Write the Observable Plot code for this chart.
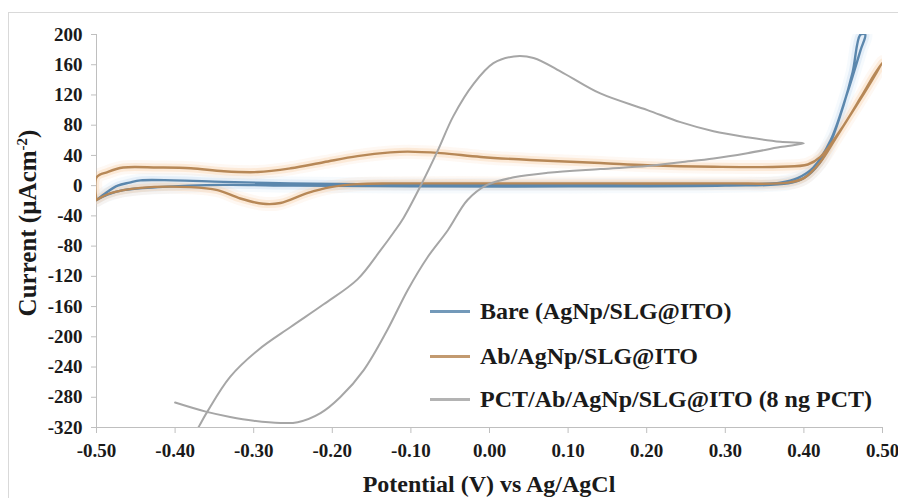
<!DOCTYPE html>
<html>
<head>
<meta charset="utf-8">
<script src="https://cdn.jsdelivr.net/npm/d3@7"></script>
<script src="https://cdn.jsdelivr.net/npm/@observablehq/plot@0.6"></script>
<style>
  body { margin: 0; background: #fff; }
  #wrap {
    position: relative; width: 898px; height: 498px; overflow: hidden; background: #fff;
    font-family: "Liberation Serif", "Times New Roman", serif; font-weight: bold; color: #1a1a1a;
  }
  #frame {
    position: absolute; left: 8px; top: 12px; width: 920px; height: 520px;
    border-top: 1px solid #d9d9d9; border-left: 1px solid #d9d9d9;
  }
  #chart { position: absolute; left: 0; top: 0; }
  #ytitle {
    position: absolute; left: 27px; top: 223px; white-space: nowrap;
    transform: translate(-50%, -50%) rotate(-90deg);
    font-size: 25px; line-height: 25px;
  }
  #ytitle sup { font-size: 15px; vertical-align: 9px; line-height: 0; }
  #xtitle {
    position: absolute; left: 489px; top: 472px; white-space: nowrap;
    transform: translateX(-50%); font-size: 24px; line-height: 24px;
  }
  .lg-row { position: absolute; left: 430px; height: 24px; white-space: nowrap; }
  .lg-line { position: absolute; left: 0; top: 11px; width: 40px; height: 3px; }
  .lg-text { position: absolute; left: 50px; top: 0; font-size: 24px; line-height: 24px; }
</style>
</head>
<body>
<div id="wrap">
  <div id="frame"></div>
  <div id="chart"></div>
  <div id="ytitle">Current (µAcm<sup>-2</sup>)</div>
  <div id="xtitle">Potential (V) vs Ag/AgCl</div>
  <div id="legend"></div>
</div>
<script>
// Axis ticks
const xTicks = [-0.50, -0.40, -0.30, -0.20, -0.10, 0.00, 0.10, 0.20, 0.30, 0.40, 0.50];
const yTicks = [-320, -280, -240, -200, -160, -120, -80, -40, 0, 40, 80, 120, 160, 200];

// Series names (legend order)
const seriesNames = ["Bare (AgNp/SLG@ITO)", "Ab/AgNp/SLG@ITO", "PCT/Ab/AgNp/SLG@ITO (8 ng PCT)"];
const seriesColors = ["#5b87ad", "#b78857", "#a6a6a6"];
const glowColors = ["#b9d3ee", "#f8c99c", null];

// Bare electrode: potential (V) and current density (µA/cm²) around the scan
const bareV = [-0.500, -0.486, -0.473, -0.458, -0.444, -0.402, -0.338, -0.253, -0.168, -0.050, 0.100, 0.250, 0.340, 0.370, 0.392, 0.412, 0.434, 0.455, 0.472, 0.478,
               0.472, 0.462, 0.450, 0.435, 0.420, 0.400, 0.380, 0.300, 0.100, -0.100, -0.250, -0.338, -0.422, -0.466, -0.486, -0.500];
const bareI = [-19, -8, 0, 4, 7, 7, 5, 3, 2, 1, 1, 1, 2, 4, 10, 24, 60, 122, 179, 200,
               200, 150, 105, 60, 30, 10, 3, 0, -1, -1, 0, 1, -2, -6, -12, -19];

// Antibody-modified electrode
const abV = [-0.500, -0.482, -0.444, -0.380, -0.346, -0.317, -0.288, -0.266, -0.232, -0.202, -0.168, -0.126, 0.000, 0.150, 0.300, 0.380, 0.400, 0.420, 0.440, 0.460, 0.480, 0.500,
             0.489, 0.472, 0.447, 0.421, 0.405, 0.370, 0.285, 0.201, 0.141, 0.052, -0.011, -0.062, -0.104, -0.126, -0.168, -0.211, -0.253, -0.295, -0.338, -0.380, -0.422, -0.466, -0.486, -0.500, -0.500];
const abI = [-19, -10, -3, -2, -6, -17, -24, -23, -10, -2, 2, 3, 3, 3, 3, 4, 10, 30, 62, 95, 128, 163,
             146, 116, 74, 38, 28, 25, 25, 27, 30, 34, 38, 43, 45, 44, 39, 31, 23, 18, 19, 23, 24, 24, 18, 11, -19];

// Electrode after PCT binding (8 ng PCT)
const pctV = [-0.385, -0.372, -0.359, -0.330, -0.295, -0.253, -0.211, -0.168, -0.139, -0.122, -0.109, -0.088, -0.066, -0.046, -0.020, 0.005, 0.031, 0.056, 0.094, 0.141, 0.201, 0.243, 0.285, 0.328, 0.370, 0.400,
              0.370, 0.328, 0.285, 0.243, 0.201, 0.141, 0.074, 0.031, -0.003, -0.028, -0.053, -0.079, -0.104, -0.130, -0.160, -0.190, -0.215, -0.244, -0.266, -0.300, -0.330, -0.361, -0.400];
const pctI = [-347, -323, -299, -253, -218, -187, -157, -124, -86, -62, -42, -1, 46, 92, 135, 162, 171, 169, 149, 122, 100, 84, 72, 64, 58, 56,
              51, 43, 36, 31, 26, 22, 17, 11, 1, -19, -59, -95, -138, -191, -244, -280, -301, -313, -314, -311, -306, -299, -287];

const toRows = (vs, is) => vs.map((v, k) => ({v, i: is[k]}));
const series = [toRows(bareV, bareI), toRows(abV, abI), toRows(pctV, pctI)];

const glowMarks = [];
series.forEach((rows, k) => {
  if (!glowColors[k]) return;
  glowMarks.push(Plot.line(rows, {x: "v", y: "i", curve: "catmull-rom", clip: true,
    stroke: glowColors[k], strokeWidth: 14, strokeOpacity: 0.12}));
  glowMarks.push(Plot.line(rows, {x: "v", y: "i", curve: "catmull-rom", clip: true,
    stroke: glowColors[k], strokeWidth: 8, strokeOpacity: 0.3}));
});
const lineMarks = series.map((rows, k) =>
  Plot.line(rows, {x: "v", y: "i", curve: "catmull-rom", clip: true,
    stroke: seriesColors[k], strokeWidth: k === 2 ? 2 : 2.4}));

const chart = Plot.plot({
  width: 898,
  height: 498,
  marginLeft: 96,
  marginRight: 16,
  marginTop: 34,
  marginBottom: 71,
  x: {domain: [-0.5, 0.5]},
  y: {domain: [-320, 200]},
  style: {fontFamily: "'Liberation Serif', 'Times New Roman', serif", fontWeight: "bold", fontSize: "19px", background: "transparent", overflow: "visible"},
  marks: [
    Plot.axisX({ticks: xTicks, tickFormat: d => d.toFixed(2), tickSize: 6, tickPadding: 10,
      stroke: "#bfbfbf", fill: "#1a1a1a", fontSize: 19, label: null}),
    Plot.axisY({ticks: yTicks, tickFormat: d => String(d), tickSize: 5, tickPadding: 9,
      stroke: "#bfbfbf", fill: "#1a1a1a", fontSize: 19, label: null}),
    Plot.ruleY([-320], {stroke: "#bfbfbf"}),
    Plot.ruleX([-0.5], {stroke: "#bfbfbf"}),
    ...glowMarks,
    ...lineMarks
  ]
});
document.getElementById("chart").appendChild(chart);

// Legend inside the plot area, lower right
const legendTops = [299, 344, 387];
const legend = document.getElementById("legend");
seriesNames.forEach((name, k) => {
  const row = document.createElement("div");
  row.className = "lg-row";
  row.style.top = legendTops[k] + "px";
  const sw = document.createElement("div");
  sw.className = "lg-line";
  sw.style.background = seriesColors[k];
  sw.style.opacity = 0.85;
  const tx = document.createElement("div");
  tx.className = "lg-text";
  tx.textContent = name;
  row.appendChild(sw);
  row.appendChild(tx);
  legend.appendChild(row);
});
</script>
</body>
</html>
